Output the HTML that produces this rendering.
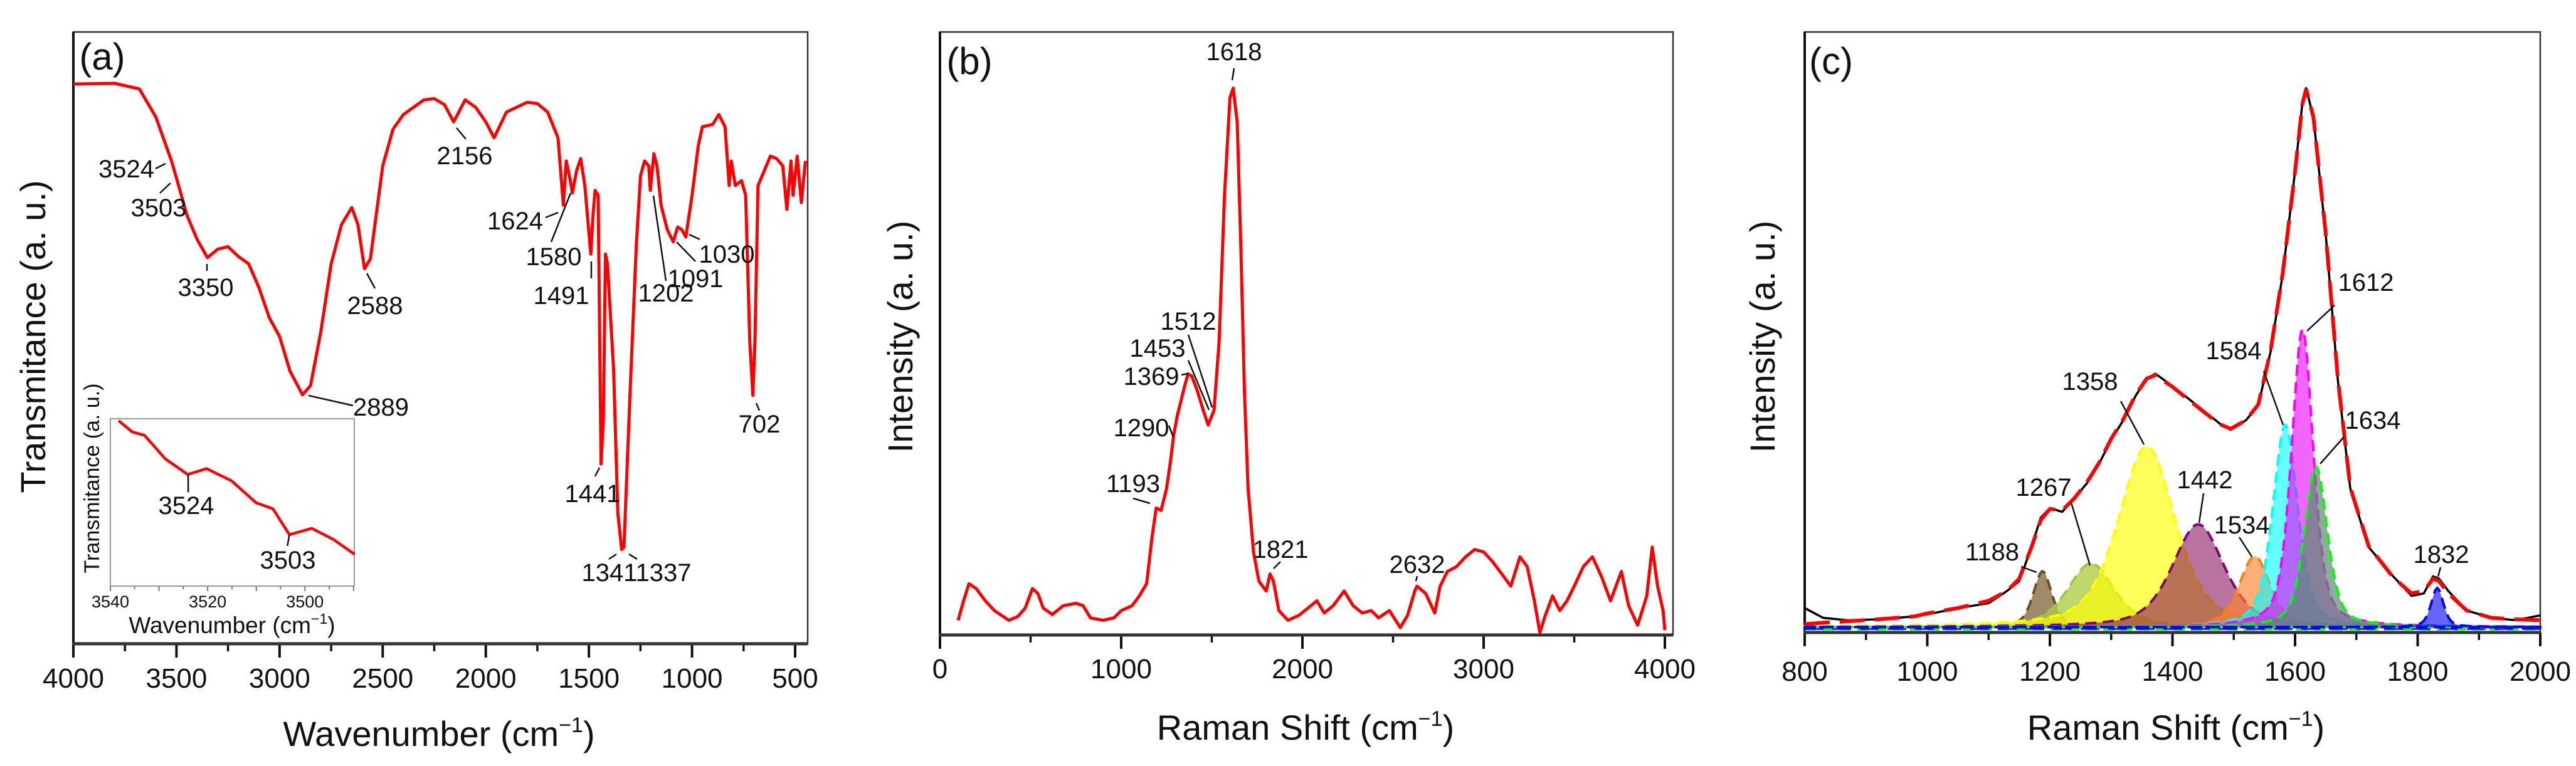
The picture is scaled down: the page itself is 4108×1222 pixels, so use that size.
<!DOCTYPE html>
<html><head><meta charset="utf-8"><style>
html,body{margin:0;padding:0;background:#fff;}
svg{display:block;font-family:"Liberation Sans",Arial,sans-serif;}
</style></head><body>
<svg id="fig" width="4108" height="1222" viewBox="0 0 4108 1222" xmlns="http://www.w3.org/2000/svg">
<g id="pa"></g>
<g id="pb"></g>
<g id="pc"></g>
<g id="ann" font-size="40" fill="#111" stroke="none">
 <text x="163" y="111" font-size="60" text-anchor="middle">(a)</text>
 <text x="246" y="283" text-anchor="end">3524</text>
 <text x="253" y="345" text-anchor="middle">3503</text>
 <text x="328" y="472" text-anchor="middle">3350</text>
 <text x="598" y="501" text-anchor="middle">2588</text>
 <text x="563" y="663">2889</text>
 <text x="741" y="262" text-anchor="middle">2156</text>
 <text x="866" y="366" text-anchor="end">1624</text>
 <text x="883" y="423" text-anchor="middle">1580</text>
 <text x="895" y="485" text-anchor="middle">1491</text>
 <text x="945" y="801" text-anchor="middle">1441</text>
 <text x="1015" y="927" text-anchor="middle">13411337</text>
 <text x="1062" y="481" text-anchor="middle">1202</text>
 <text x="1109" y="458" text-anchor="middle">1091</text>
 <text x="1159" y="419" text-anchor="middle">1030</text>
 <text x="1211" y="690" text-anchor="middle">702</text>
 <g stroke="#111" stroke-width="2.5" fill="none">
  <line x1="248" y1="269" x2="264" y2="261"/><line x1="255" y1="308" x2="272" y2="292"/>
  <line x1="330" y1="421" x2="330" y2="432"/><line x1="585" y1="436" x2="598" y2="460"/>
  <line x1="492" y1="631" x2="563" y2="647"/><line x1="728" y1="204" x2="743" y2="222"/>
  <line x1="870" y1="347" x2="890" y2="339"/><line x1="879" y1="386" x2="910" y2="308"/>
  <line x1="943" y1="417" x2="943" y2="444"/><line x1="949" y1="760" x2="956" y2="746"/>
  <line x1="971" y1="892" x2="983" y2="884"/><line x1="1003" y1="884" x2="1016" y2="892"/>
  <line x1="1042" y1="312" x2="1062" y2="448"/><line x1="1079" y1="386" x2="1109" y2="417"/>
  <line x1="1099" y1="374" x2="1116" y2="382"/><line x1="1206" y1="643" x2="1211" y2="655"/>
 </g>
 <text x="1546" y="118" font-size="60" text-anchor="middle">(b)</text>
 <text x="1968" y="96" text-anchor="middle">1618</text>
 <text x="1895" y="526" text-anchor="middle">1512</text>
 <text x="1846" y="569" text-anchor="middle">1453</text>
 <text x="1836" y="614" text-anchor="middle">1369</text>
 <text x="1820" y="696" text-anchor="middle">1290</text>
 <text x="1807" y="785" text-anchor="middle">1193</text>
 <text x="2042" y="890" text-anchor="middle">1821</text>
 <text x="2260" y="914" text-anchor="middle">2632</text>
 <g stroke="#111" stroke-width="2.5" fill="none">
  <line x1="1968" y1="109" x2="1965" y2="128"/><line x1="1895" y1="534" x2="1933" y2="650"/>
  <line x1="1895" y1="575" x2="1928" y2="654"/><line x1="1884" y1="598" x2="1895" y2="596"/>
  <line x1="1864" y1="679" x2="1871" y2="697"/><line x1="1807" y1="795" x2="1834" y2="803"/>
  <line x1="2031" y1="907" x2="2042" y2="896"/><line x1="2260" y1="919" x2="2258" y2="927"/>
 </g>
 <text x="2920" y="118" font-size="60" text-anchor="middle">(c)</text>
 <text x="3773" y="464" text-anchor="middle">1612</text>
 <text x="3562" y="573" text-anchor="middle">1584</text>
 <text x="3333" y="622" text-anchor="middle">1358</text>
 <text x="3784" y="684" text-anchor="middle">1634</text>
 <text x="3516" y="779" text-anchor="middle">1442</text>
 <text x="3575" y="851" text-anchor="middle">1534</text>
 <text x="3259" y="791" text-anchor="middle">1267</text>
 <text x="3177" y="894" text-anchor="middle">1188</text>
 <text x="3893" y="898" text-anchor="middle">1832</text>
 <g stroke="#111" stroke-width="2.5" fill="none">
  <line x1="3723" y1="487" x2="3679" y2="528"/><line x1="3610" y1="592" x2="3641" y2="678"/>
  <line x1="3382" y1="640" x2="3419" y2="709"/><line x1="3738" y1="697" x2="3700" y2="740"/>
  <line x1="3514" y1="787" x2="3507" y2="834"/><line x1="3571" y1="857" x2="3591" y2="888"/>
  <line x1="3303" y1="802" x2="3333" y2="902"/><line x1="3223" y1="904" x2="3248" y2="913"/>
  <line x1="3892" y1="905" x2="3888" y2="920"/>
 </g>
</g>
</svg>
<script>
// ---------- Panel A data (FTIR) ----------
const ftirWn = [4000,3800,3680,3600,3524,3503,3450,3400,3350,3300,3250,3200,3150,3100,3050,3000,2950,2889,2850,2800,2750,2700,2650,2620,2588,2560,2500,2450,2400,2300,2250,2200,2156,2100,2050,2000,1960,1900,1800,1750,1700,1650,1624,1610,1590,1580,1560,1540,1520,1491,1480,1470,1455,1441,1430,1420,1410,1380,1360,1341,1330,1300,1270,1250,1230,1210,1202,1185,1170,1150,1120,1091,1070,1050,1030,1000,970,950,900,870,840,820,810,790,760,740,720,705,695,680,660,620,590,560,540,520,510,490,470,450];
const ftirT = [91.5,91.6,90.7,86.1,78.9,76.5,70.1,66.1,63.1,64.5,64.9,63.3,62.1,58.2,53.3,50.2,44.6,40.7,42.2,51.0,62.1,68.5,71.3,68.5,61.3,62.9,78.1,84.1,86.5,88.9,89.1,88.1,85.3,88.9,87.7,85.3,82.7,86.9,88.5,88.3,86.9,82.7,71.7,78.9,75.7,73.7,77.3,79.3,74.9,63.7,70.1,74.1,73.3,29.4,36.6,63.7,62.1,44.6,21.4,15.4,15.8,41.4,65.3,76.5,78.9,78.1,74.1,80.1,78.1,71.7,67.7,65.7,68.1,67.7,66.5,73.3,81.3,84.5,84.9,86.5,84.5,74.9,78.9,74.9,75.7,73.3,49.4,40.6,49.4,74.9,76.5,79.7,79.3,78.1,71.0,78.9,73.3,79.7,72.1,78.9];
const ftirTicks = ["4000","3500","3000","2500","2000","1500","1000","500"];
const insetWn = [3538.3,3535.5,3533,3528.7,3524.1,3520.2,3515.1,3510,3506.6,3503.2,3498.6,3494.1,3489.8];
const insetT = [98.8,92.1,90.1,76.0,66.7,70.2,62.9,49.7,46.2,30.7,34.5,27.8,19.0];
const insetTicks = ["3540","3520","3500"];
// ---------- Panel B data (Raman) ----------
const ramanX = [100,130,160,200,250,300,380,430,470,510,540,570,620,680,750,790,830,900,960,1000,1060,1100,1140,1170,1193,1220,1250,1270,1290,1310,1330,1350,1369,1390,1420,1453,1480,1512,1540,1570,1600,1618,1640,1660,1680,1700,1730,1760,1800,1821,1840,1870,1920,1980,2030,2080,2120,2170,2230,2280,2330,2380,2420,2480,2540,2580,2620,2632,2680,2730,2760,2800,2850,2900,2950,3000,3050,3100,3150,3200,3240,3280,3310,3340,3380,3420,3460,3500,3550,3600,3650,3700,3760,3800,3850,3900,3930,3960,3990,4000];
const ramanZ = [1270,1230,1195,1205,1230,1250,1270,1262,1245,1205,1215,1245,1258,1240,1235,1240,1265,1270,1265,1250,1240,1220,1195,1100,1040,1045,1000,950,890,850,820,790,765,770,800,840,870,840,700,400,200,180,250,500,800,1000,1130,1190,1210,1175,1190,1250,1270,1260,1245,1230,1255,1240,1210,1240,1255,1250,1265,1250,1285,1260,1210,1200,1215,1255,1200,1170,1160,1140,1125,1130,1150,1175,1200,1140,1160,1230,1295,1260,1220,1250,1230,1200,1160,1140,1180,1230,1170,1240,1280,1220,1120,1200,1250,1290];
const ramanTicks = ["0","1000","2000","3000","4000"];
// ---------- Panel C data (fit) ----------
const cX = [800,830,870,920,980,1000,1050,1100,1130,1150,1170,1185,1200,1220,1240,1260,1280,1300,1320,1340,1358,1372,1400,1430,1460,1480,1495,1520,1540,1560,1580,1600,1612,1618,1630,1650,1670,1690,1720,1760,1790,1810,1825,1835,1850,1880,1920,1960,2000];
const cMeasZ = [1245,1265,1270,1268,1262,1258,1245,1235,1210,1190,1120,1060,1040,1048,1020,990,950,900,860,810,775,765,790,820,850,870,880,860,830,720,560,350,210,180,240,480,780,1000,1120,1180,1220,1215,1180,1185,1210,1250,1265,1270,1260];
const cFitZ = [1278,1275,1272,1268,1262,1256,1245,1230,1210,1185,1120,1065,1042,1045,1020,988,948,898,858,808,775,768,792,822,852,870,878,860,828,718,558,350,212,182,240,478,778,998,1118,1182,1215,1210,1185,1190,1215,1250,1265,1268,1270];
const pkCenter = [1188,1267,1358,1442,1534,1584,1612,1634,1832];
const pkHeight = [9.3,10.6,30.1,17.1,11.8,33.7,49.6,26.8,6.5];
const pkHalfWidth = [18,45,55,50,30,24,21,22,12];
const cTicks = ["800","1000","1200","1400","1600","1800","2000"];

const NS="http://www.w3.org/2000/svg";
function mk(parent,tag,attrs){const e=document.createElementNS(NS,tag);for(const k in attrs)e.setAttribute(k,attrs[k]);parent.appendChild(e);return e;}
function line(p,x1,y1,x2,y2,w,c){return mk(p,'line',{x1,y1,x2,y2,stroke:c||'#111','stroke-width':w});}

function panel(g,o){
  // ticks
  for(let v=o.minorStart; (o.dir>0? v<=o.xmaxTick : v>=o.xmaxTick); v+=o.minorStep*o.dir){
    const x=o.sx(v); const major = Math.abs((v-o.majorStart)%o.majorStep)<1e-6;
    const t=line(g,x,o.bottom,x,o.bottom+(major?22:12),major?4:3.5,'#111');
    
    
  }
  o.ticks.forEach(lbl=>{
    const t=mk(g,'text',{x:o.sx(+lbl),y:o.tickY,'font-size':44,'text-anchor':'middle',fill:'#111'});
    t.textContent=lbl;
    
    
  });
  // frame
  const fr=mk(g,'rect',{x:o.left,y:o.top,width:o.right-o.left,height:o.bottom-o.top,fill:'none',stroke:'#333','stroke-width':2.5});
  
  
  const la=line(g,o.left,o.top,o.left,o.bottom+3,4,'#111');
  
  
  const ba=line(g,o.left-2,o.bottom,o.right,o.bottom,5,'#333');
  
  
  // titles
  const xt=mk(g,'text',{x:o.titleX,y:o.titleY,'font-size':56,'text-anchor':'middle',fill:'#111'});
  xt.innerHTML=o.xTitle+' (cm<tspan dy="-22" font-size="34">−1</tspan><tspan dy="22">)</tspan>';
  
  
  const yt=mk(g,'text',{x:0,y:0,'font-size':56,'text-anchor':'middle',fill:'#111',transform:`translate(${o.yTitleX},${o.yTitleY}) rotate(-90)`});
  yt.textContent=o.yTitle;
  
  
}
function poly(g,xs,ys,sx,sy,attrs){
  const pts=xs.map((x,i)=>sx(x).toFixed(1)+','+sy(ys[i]).toFixed(1)).join(' ');
  return mk(g,'polyline',Object.assign({points:pts,fill:'none'},attrs));
}

// ===== Panel A =====
(function(){
  const g=document.getElementById('pa');
  const sx=v=>117+(4000-v)*(1151/3500), sy=v=>1027-v*9.76;
  panel(g,{left:117,right:1288,top:51,bottom:1027,sx,dir:-1,minorStart:4000,minorStep:250,majorStart:4000,majorStep:500,xmaxTick:450,ticks:ftirTicks,tickY:1097,titleX:700,titleY:1190,xTitle:'Wavenumber',yTitle:'Transmitance (a. u.)',yTitleX:72,yTitleY:537});
  const s=poly(g,ftirWn,ftirT,sx,sy,{stroke:'#ff0000','stroke-width':5,'stroke-linejoin':'round'});
  
  
  // inset
  const ig=mk(g,'g',{});
  
  
  const L=176,R=565,T=668,B=935;
  const isx=v=>L+(3540-v)*((553-200)*0.879/40), isy=v=>B-v*(B-T)/100;
  mk(ig,'rect',{x:L,y:T,width:R-L,height:B-T,fill:'#fff',stroke:'#999','stroke-width':2});
  for(let v=3540;v>=3490;v-=5){const x=isx(v);const maj=v%10===0;line(ig,x,B,x,B+(maj?8:5),2,'#777');}
  insetTicks.forEach(l=>{const t=mk(ig,'text',{x:isx(+l),y:969,'font-size':27,'text-anchor':'middle',fill:'#111'});t.textContent=l;
    
    });
  const it=mk(ig,'text',{x:370,y:1010,'font-size':37,'text-anchor':'middle',fill:'#111'});
  it.innerHTML='Wavenumber (cm<tspan dy="-15" font-size="23">−1</tspan><tspan dy="15">)</tspan>';
  
  
  const iy=mk(ig,'text',{x:0,y:0,'font-size':34,'text-anchor':'middle',fill:'#111',transform:'translate(158,763) rotate(-90)'});
  iy.textContent='Transmitance (a. u.)';
  
  
  const ip=poly(ig,insetWn,insetT,isx,isy,{stroke:'#ff0000','stroke-width':4.5,'stroke-linejoin':'round'});
  
  
  line(ig,isx(3524),isy(66.7),isx(3524),isy(56),2.5,'#111');
  line(ig,isx(3503.2),isy(30.7),isx(3503.6),isy(24),2.5,'#111');
  const a=mk(ig,'text',{x:297,y:820,'font-size':40,'text-anchor':'middle',fill:'#111'});a.textContent='3524';
  
  
  const b=mk(ig,'text',{x:459,y:907,'font-size':40,'text-anchor':'middle',fill:'#111'});b.textContent='3503';
  
  
})();

// ===== Panel B =====
(function(){
  const g=document.getElementById('pb');
  const sx=v=>1499+v*(1156/4000), sy=z=>51+(z-65)*(962/1235);
  panel(g,{left:1499,right:2668,top:51,bottom:1013,sx,dir:1,minorStart:0,minorStep:500,majorStart:0,majorStep:1000,xmaxTick:4000,ticks:ramanTicks,tickY:1082,titleX:2082,titleY:1180,xTitle:'Raman Shift',yTitle:'Intensity (a. u.)',yTitleX:1455,yTitleY:537});
  const s=poly(g,ramanX,ramanZ,sx,sy,{stroke:'#ff0000','stroke-width':5,'stroke-linejoin':'round'});
  
  
})();

// ===== Panel C =====
(function(){
  const g=document.getElementById('pc');
  const sx=v=>2878+(v-800)*(1173/1200), sy=v=>1009-v*9.58, szz=z=>51+(z-65)*(958/1230);
  panel(g,{left:2878,right:4051,top:51,bottom:1009,sx,dir:1,minorStart:800,minorStep:100,majorStart:800,majorStep:200,xmaxTick:2000,ticks:cTicks,tickY:1086,titleX:3470,titleY:1180,xTitle:'Raman Shift',yTitle:'Intensity (a. u.)',yTitleX:2830,yTitleY:537});
  const fills=['rgba(120,90,40,0.7)','rgba(170,200,60,0.75)','rgba(255,255,0,0.65)','rgba(128,0,80,0.55)','rgba(255,130,50,0.65)','rgba(0,255,255,0.6)','rgba(230,0,255,0.6)','rgba(90,140,110,0.7)','rgba(0,0,255,0.6)'];
  const strokes=['#6b4f1d','#9cc83c','#ffff00','#800080','#ff8000','#00ffff','#ff00ff','#00ff00','#0000ff'];
  const base=0.9;
  // baseline dashed lines
  const bl1=line(g,2878,sy(0.6),4051,sy(0.6),5,'#00ff00');bl1.setAttribute('stroke-dasharray','18 10');
  
  
  const bl2=line(g,2878,sy(0.7),4051,sy(0.7),5,'#0000ff');bl2.setAttribute('stroke-dasharray','30 14');
  
  
  pkCenter.forEach((c,i)=>{
    let d='M'+sx(800)+','+sy(base);
    for(let x=800;x<=2000;x+=3){
      const u=(x-c)/pkHalfWidth[i];
      const v=base+pkHeight[i]*(0.5/(1+u*u)+0.5*Math.exp(-0.693*u*u));
      d+=' L'+sx(x).toFixed(1)+','+sy(v).toFixed(1);
    }
    d+=' L'+sx(2000)+','+sy(base)+' Z';
    const p=mk(g,'path',{d,fill:fills[i],stroke:strokes[i],'stroke-width':4,'stroke-dasharray':'18 10'});
    
    
  });
  const m=poly(g,cX,cMeasZ,sx,szz,{stroke:'#000','stroke-width':3.5,'stroke-linejoin':'round'});
  
  
  const f=poly(g,cX,cFitZ,sx,szz,{stroke:'#ff0000','stroke-width':6,'stroke-dasharray':'40 16'});
  
  
})();
</script>
</body></html>
